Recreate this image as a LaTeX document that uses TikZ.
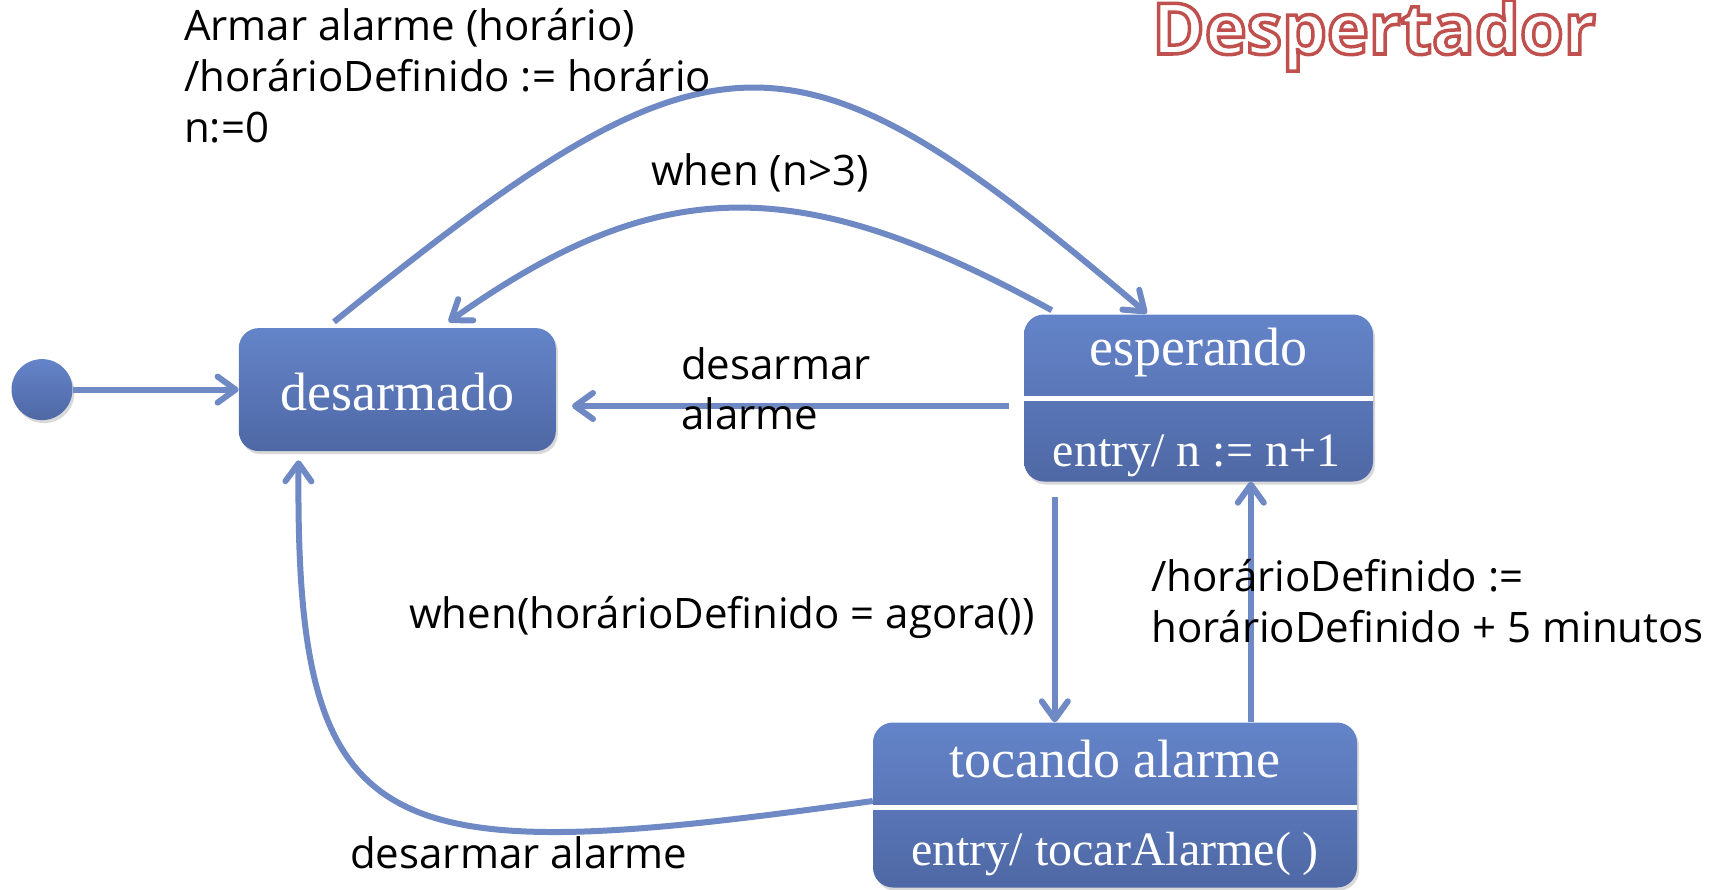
\documentclass[tikz,border=0pt]{standalone}
\usepackage{fontspec}
\setmainfont{Liberation Serif}
\newfontfamily\lblfont{Open Sans}
\usetikzlibrary{arrows.meta,calc,shadows}
\definecolor{edgec}{RGB}{111,137,197}
\definecolor{boxtop}{RGB}{100,132,201}
\definecolor{boxbot}{RGB}{79,104,165}
\definecolor{titlered}{RGB}{192,80,77}
\begin{document}
\begin{tikzpicture}[x=1pt,y=-1pt,
  statebox/.style={rounded corners=20pt, top color=boxtop, bottom color=boxbot, draw=none, inner sep=0pt,
    drop shadow={opacity=0.3, shadow xshift=2pt, shadow yshift=-3pt}},
  stxt/.style={text=white, font=\fontsize{54}{60}\selectfont, inner sep=0pt, anchor=base},
  etxt/.style={text=white, font=\fontsize{48}{56}\selectfont, inner sep=0pt, anchor=base},
  lbl/.style={font=\lblfont\fontsize{42}{51}\selectfont, inner sep=0pt, anchor=base west},
  trans/.style={draw=edgec, line width=6pt, -{Straight Barb[length=18pt,width=26pt,round]}},
  divider/.style={draw=white, line width=5pt},
]
\useasboundingbox (0,0) rectangle (1716,889);

% states
\node[statebox, minimum width=317pt, minimum height=123pt] (desarm) at (397.3,389.6) {};
\node[stxt] (desarmtxt) at (397.3,410) {desarmado};

\node[statebox, minimum width=349pt, minimum height=167pt] (esp) at (1198.5,398) {};
\draw[divider] (esp.west) -- (esp.east);
\node[stxt] (esptxt) at (1198.5,365) {esperando};
\node[etxt] (espentry) at (1196.5,466) {entry/ n := n+1};

\node[statebox, minimum width=484pt, minimum height=165pt] (toc) at (1115,805) {};
\draw[divider] ($(toc.west)+(0,2)$) -- ($(toc.east)+(0,2)$);
\node[stxt] (toctxt) at (1115,777) {tocando alarme};
\node[etxt] (tocentry) at (1115,865) {entry/ tocarAlarme( )};

\node[circle, minimum size=61pt, inner sep=0pt, top color=boxtop, bottom color=boxbot,
  drop shadow={opacity=0.3, shadow xshift=2pt, shadow yshift=-3pt}] (init) at (42,389.6) {};

% transitions
\draw[trans] (init) -- (desarm);
\draw[trans] ($(esp.west)+(-15,8)$) -- ($(desarm.east)+(16,16.4)$);
\draw[trans] ($(desarm.north west)+(95.4,-6)$) .. controls (717,11.5) and (792,11.5) .. ($(esp.north west)+(123,-1)$);
\draw[trans] ($(esp.north west)+(28,-4)$) .. controls (800,172) and (660,172) .. ($(desarm.north west)+(210,-6)$);
\coordinate (d1) at ($(esp.south west)+(31,15.5)$);
\draw[trans] (d1) -- (d1 |- toc.north);
\coordinate (u1) at ($(toc.north west)+(378,0)$);
\draw[trans] (u1) -- (u1 |- esp.south);
\draw[trans] ($(toc.west)+(0,-4)$) .. controls (380,870) and (295,850) .. ($(desarm.south west)+(60,9)$);

% labels
\node[lbl] (arm1) at (184,40) {Armar alarme (horário)};
\node[lbl] (arm2) at (184,91) {/horárioDefinido := horário};
\node[lbl] (arm3) at (184,142) {n:=0};
\node[lbl] (when3) at (651,185) {when (n>3)};
\node[lbl] (des1) at (681,379) {desarmar};
\node[lbl] (des2) at (681,429) {alarme};
\node[lbl] (whenh) at (409,628) {when(horárioDefinido = agora())};
\node[lbl] (hd1) at (1151,591) {/horárioDefinido :=};
\node[lbl] (hd2) at (1151,642) {horárioDefinido + 5 minutos};
\node[lbl] (des3) at (350,868) {desarmar alarme};

% title
\node[font=\lblfont\bfseries\fontsize{71}{76}\selectfont, inner sep=0pt, anchor=base west, text=white] (title) at (1152,54)
  {\special{pdf:literal direct 2 Tr 3.5 w 0.753 0.314 0.302 RG}Despertador\special{pdf:literal direct 0 Tr}};
\end{tikzpicture}
\end{document}
